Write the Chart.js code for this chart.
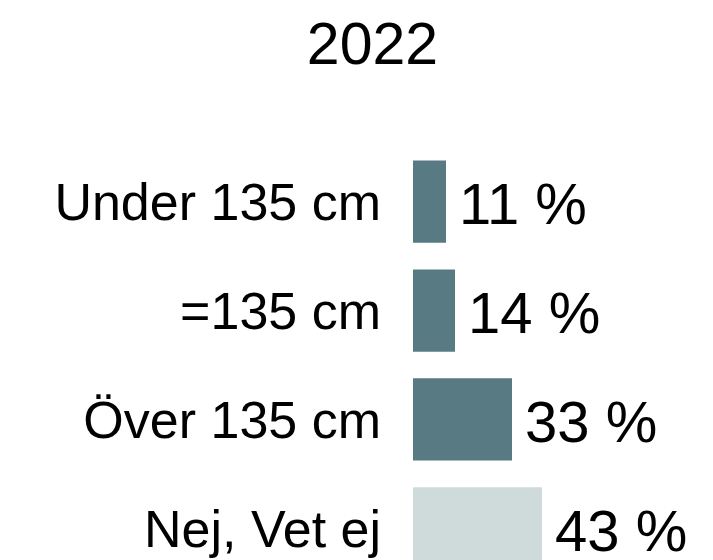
<!DOCTYPE html>
<html>
<head>
<meta charset="utf-8">
<script src="https://cdn.jsdelivr.net/npm/chart.js@4.4.0/dist/chart.umd.min.js"></script>
<style>
  html, body { margin: 0; padding: 0; background: #fff; overflow: hidden; }
</style>
</head>
<body>
<canvas id="chart" width="713" height="646"></canvas>
<script>
const titleText = "2022";
const categories = ["Under 135 cm", "=135 cm", "Över 135 cm", "Nej, Vet ej"];
const values = [11, 14, 33, 43];
const barColors = ["#587a82", "#587a82", "#587a82", "#cfdadb"];

const fontFamily = "'Liberation Sans', Arial, Helvetica, sans-serif";

// draws "NN %" just right of each bar
const valueLabels = {
    id: "valueLabels",
    afterDatasetsDraw(chart) {
        const ctx = chart.ctx;
        const meta = chart.getDatasetMeta(0);
        ctx.save();
        ctx.font = "58px " + fontFamily;
        ctx.fillStyle = "#000";
        ctx.textAlign = "left";
        ctx.textBaseline = "alphabetic";
        meta.data.forEach((bar, i) => {
            ctx.fillText(values[i] + " %", bar.x + 13, bar.y + 22.5);
        });
        ctx.restore();
    }
};

new Chart(document.getElementById("chart"), {
    type: "bar",
    data: {
        labels: categories,
        datasets: [{
            data: values,
            backgroundColor: barColors,
            barPercentage: 0.755,
            categoryPercentage: 1
        }]
    },
    options: {
        indexAxis: "y",
        responsive: false,
        animation: false,
        layout: { padding: { left: 32, right: 0, top: 0, bottom: 0 } },
        plugins: {
            legend: { display: false },
            tooltip: { enabled: false },
            title: {
                display: true,
                text: titleText,
                color: "#000",
                font: { family: fontFamily, size: 59, weight: "normal", lineHeight: 1.2 },
                padding: { top: 12, bottom: 64.4 }
            }
        },
        scales: {
            x: { display: false, min: 0, max: 100 },
            y: {
                afterFit(scale) { scale.width = 381; },
                grid: { display: false, drawTicks: false },
                border: { display: false },
                ticks: {
                    color: "#000",
                    padding: 32,
                    labelOffset: 4,
                    font: { family: fontFamily, size: 52 }
                }
            }
        }
    },
    plugins: [valueLabels]
});
</script>
</body>
</html>
